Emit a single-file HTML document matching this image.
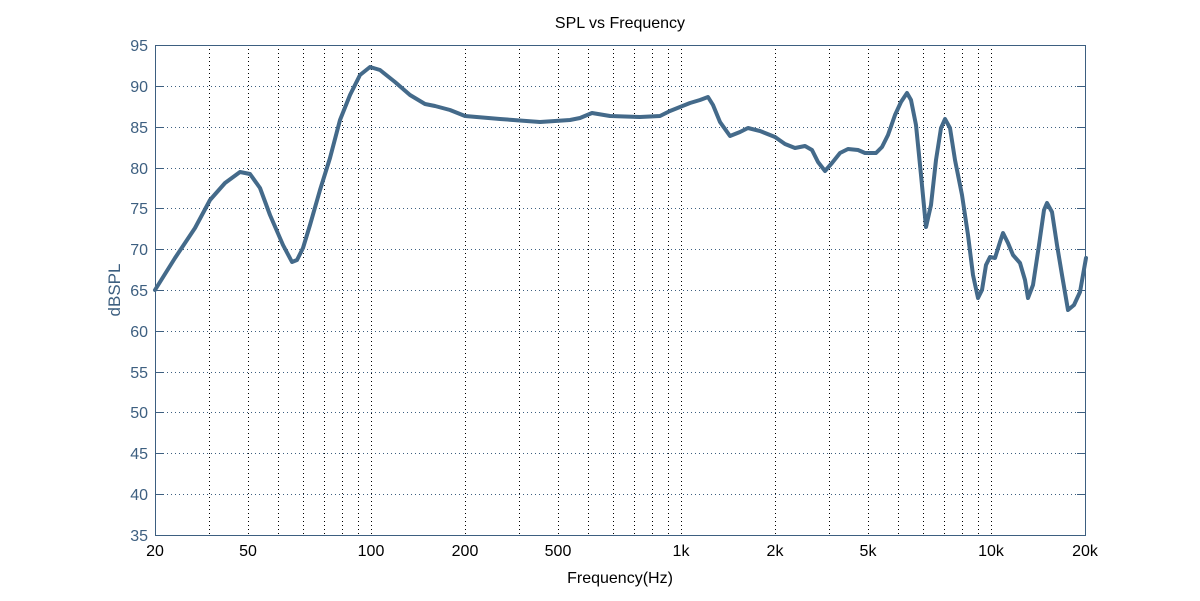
<!DOCTYPE html>
<html><head><meta charset="utf-8"><style>
html,body{margin:0;padding:0;background:#fff;}
svg{display:block;font-family:"Liberation Sans",sans-serif;}
</style></head><body>
<svg width="1200" height="601" viewBox="0 0 1200 601">
<rect width="1200" height="601" fill="#fff"/>
<g stroke="#3d5f80" stroke-width="1" stroke-dasharray="1,3">
<line x1="155" x2="1085" y1="86.5" y2="86.5"/>
<line x1="155" x2="1085" y1="127.5" y2="127.5"/>
<line x1="155" x2="1085" y1="168.5" y2="168.5"/>
<line x1="155" x2="1085" y1="208.5" y2="208.5"/>
<line x1="155" x2="1085" y1="249.5" y2="249.5"/>
<line x1="155" x2="1085" y1="290.5" y2="290.5"/>
<line x1="155" x2="1085" y1="331.5" y2="331.5"/>
<line x1="155" x2="1085" y1="372.5" y2="372.5"/>
<line x1="155" x2="1085" y1="412.5" y2="412.5"/>
<line x1="155" x2="1085" y1="453.5" y2="453.5"/>
<line x1="155" x2="1085" y1="494.5" y2="494.5"/>
</g>
<g stroke="#000" stroke-width="1" stroke-dasharray="1,3">
<line x1="209.5" x2="209.5" y1="45" y2="535"/>
<line x1="248.5" x2="248.5" y1="45" y2="535"/>
<line x1="278.5" x2="278.5" y1="45" y2="535"/>
<line x1="303.5" x2="303.5" y1="45" y2="535"/>
<line x1="324.5" x2="324.5" y1="45" y2="535"/>
<line x1="342.5" x2="342.5" y1="45" y2="535"/>
<line x1="358.5" x2="358.5" y1="45" y2="535"/>
<line x1="371.5" x2="371.5" y1="45" y2="535"/>
<line x1="465.5" x2="465.5" y1="45" y2="535"/>
<line x1="519.5" x2="519.5" y1="45" y2="535"/>
<line x1="558.5" x2="558.5" y1="45" y2="535"/>
<line x1="588.5" x2="588.5" y1="45" y2="535"/>
<line x1="613.5" x2="613.5" y1="45" y2="535"/>
<line x1="634.5" x2="634.5" y1="45" y2="535"/>
<line x1="652.5" x2="652.5" y1="45" y2="535"/>
<line x1="668.5" x2="668.5" y1="45" y2="535"/>
<line x1="681.5" x2="681.5" y1="45" y2="535"/>
<line x1="775.5" x2="775.5" y1="45" y2="535"/>
<line x1="829.5" x2="829.5" y1="45" y2="535"/>
<line x1="868.5" x2="868.5" y1="45" y2="535"/>
<line x1="898.5" x2="898.5" y1="45" y2="535"/>
<line x1="923.5" x2="923.5" y1="45" y2="535"/>
<line x1="944.5" x2="944.5" y1="45" y2="535"/>
<line x1="962.5" x2="962.5" y1="45" y2="535"/>
<line x1="978.5" x2="978.5" y1="45" y2="535"/>
<line x1="991.5" x2="991.5" y1="45" y2="535"/>
</g>
<rect x="155.5" y="45.5" width="930" height="490" fill="none" stroke="#3d5f80" stroke-width="1"/>
<g stroke="#3d5f80" stroke-width="1">
<path d="M155 86.5h8M155 127.5h8M155 168.5h8M155 208.5h8M155 249.5h8M155 290.5h8M155 331.5h8M155 372.5h8M155 412.5h8M155 453.5h8M155 494.5h8"/>
<path d="M1085 86.5h-8M1085 127.5h-8M1085 168.5h-8M1085 208.5h-8M1085 249.5h-8M1085 290.5h-8M1085 331.5h-8M1085 372.5h-8M1085 412.5h-8M1085 453.5h-8M1085 494.5h-8"/>
</g>
<g fill="#3d5f80" font-size="16" text-anchor="end">
<text x="148" y="51">95</text><text x="148" y="92">90</text><text x="148" y="133">85</text>
<text x="148" y="174">80</text><text x="148" y="214">75</text><text x="148" y="255">70</text>
<text x="148" y="296">65</text><text x="148" y="337">60</text><text x="148" y="378">55</text>
<text x="148" y="418">50</text><text x="148" y="459">45</text><text x="148" y="500">40</text>
<text x="148" y="541">35</text>
</g>
<g fill="#000" font-size="16" text-anchor="middle">
<text x="155" y="556">20</text><text x="248" y="556">50</text><text x="371" y="556">100</text>
<text x="465" y="556">200</text><text x="558" y="556">500</text><text x="681" y="556">1k</text>
<text x="775" y="556">2k</text><text x="868" y="556">5k</text><text x="991" y="556">10k</text>
<text x="1085" y="556">20k</text>
<text x="620" y="583">Frequency(Hz)</text>
<text x="620" y="28">SPL vs Frequency</text>
</g>
<text transform="translate(120,290) rotate(-90)" fill="#3d5f80" font-size="17" text-anchor="middle">dBSPL</text>
<polyline fill="none" stroke="#446a8a" stroke-width="4" stroke-linejoin="round" stroke-linecap="round"
points="155,290 175,258 195,228 210,200 225,183 240,172 250,174 260,188 270,215 283,245 292,262 297,260 303,248 310,225 320,190 330,158 340,120 350,95 360,75 370,67 380,70 395,82 410,95 425,104 435,106 450,110 465,116 500,119 540,122 570,120 580,118 592,113 610,116 640,117 660,116 670,111 690,103 700,100 708,97 713,105 720,122 730,136 740,132 748,128 760,131 775,137 785,144 795,148 805,146 812,150 818,162 825,171 832,163 840,153 848,149 858,150 865,153 876,153 882,147 888,135 895,115 901,102 907,93 911,100 916,125 921,175 926,227 931,205 936,160 941,128 945,119 950,128 955,160 962,195 968,235 973,275 978,298 982,290 986,265 990,257 995,258 1000,242 1003,233 1008,243 1013,255 1020,263 1025,280 1028,298 1033,285 1039,245 1044,210 1047,203 1052,212 1057,245 1062,275 1068,310 1074,305 1080,292 1086,258"/>
</svg>
</body></html>
